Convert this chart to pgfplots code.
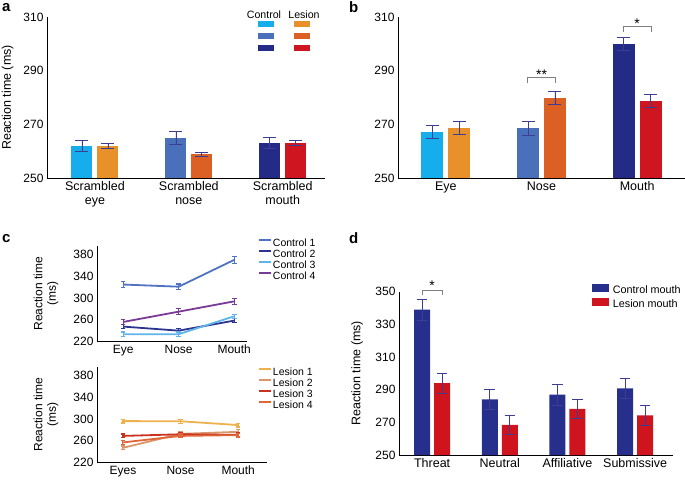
\documentclass[border=0pt]{standalone}
\usepackage{fontspec}
\setmainfont{Liberation Sans}
\usepackage{pgfplots}
\pgfplotsset{compat=1.18}

\definecolor{cEye}{HTML}{16ADEC}
\definecolor{cNose}{HTML}{4A70BA}
\definecolor{cMouth}{HTML}{242B86}
\definecolor{lEye}{HTML}{E8912B}
\definecolor{lNose}{HTML}{DC6024}
\definecolor{lMouth}{HTML}{CF1620}
\definecolor{errc}{HTML}{3B3E92}
\definecolor{cA}{HTML}{4F72C3}
\definecolor{cB}{HTML}{2B3590}
\definecolor{cC}{HTML}{60B4EA}
\definecolor{cD}{HTML}{793B96}
\definecolor{lA}{HTML}{EFB04E}
\definecolor{lB}{HTML}{D9966A}
\definecolor{lC}{HTML}{C8321F}
\definecolor{lD}{HTML}{E0663A}
\definecolor{dC}{HTML}{262F8C}
\definecolor{dL}{HTML}{D0141E}

\pgfplotsset{
  base/.style={scale only axis, axis lines=left,
    axis line style={-, line width=0.7pt, black},
    major tick length=0pt, tick style={draw=none},
    /pgf/number format/assume math mode=true,
    yticklabel style={font=\fontsize{12}{12}\selectfont},
    xticklabel style={font=\fontsize{12.5}{14}\selectfont, align=center},
    clip=false},
  barerr/.style={error bars/.cd, y dir=both, y explicit,
    error bar style={errc, line width=0.7pt},
    error mark options={rotate=90, errc, line width=0.7pt, mark size=#1}},
  lineerr/.style={line width=1.8pt, error bars/.cd, y dir=both, y explicit,
    error bar style={line width=1.1pt},
    error mark options={rotate=90, line width=1.1pt, mark size=2.3pt}},
}

\begin{document}
\begin{tikzpicture}
\useasboundingbox (0,0) rectangle (685pt,480pt);

% ---------------- panel a
\begin{axis}[base, at={(47pt,302pt)}, anchor=south west,
  width=278pt, height=161pt,
  xmin=-0.51, xmax=2.45, ymin=250, ymax=310,
  ytick={250,270,290,310},
  xtick={0,1,2},
  xticklabels={Scrambled\\eye, Scrambled\\nose, Scrambled\\mouth},
  ylabel={Reaction time (ms)},
  ylabel style={at={(axis description cs:-0.142,0.5)}, anchor=center,
    font=\fontsize{12.5}{13}\selectfont},
  legend columns=2,
  legend style={at={(0.759,0.975)}, anchor=north west, draw=none, fill=none,
    inner sep=0pt, outer sep=0pt, row sep=0pt, column sep=0pt,
    nodes={inner sep=0pt, text height=8pt, text depth=3.5pt},
    /tikz/every even column/.append style={column sep=19pt}},
  legend image code/.code={\fill[#1, draw=none] (0pt,0pt) rectangle (16pt,6pt);},
]
\addplot[ybar, bar width=21pt, bar shift=0pt, fill=cEye, draw=none, barerr=6.5pt]
  coordinates {(-0.138,262) +- (0,2)};
\addlegendentry{}
\addplot[ybar, bar width=21pt, bar shift=0pt, fill=lEye, draw=none, barerr=6.5pt]
  coordinates {(0.138,262) +- (0,0.8)};
\addlegendentry{}
\addplot[ybar, bar width=21pt, bar shift=0pt, fill=cNose, draw=none, barerr=6.5pt]
  coordinates {(0.862,265) +- (0,2.3)};
\addlegendentry{}
\addplot[ybar, bar width=21pt, bar shift=0pt, fill=lNose, draw=none, barerr=6.5pt]
  coordinates {(1.138,258.8) +- (0,0.9)};
\addlegendentry{}
\addplot[ybar, bar width=21pt, bar shift=0pt, fill=cMouth, draw=none, barerr=6.5pt]
  coordinates {(1.862,263) +- (0,2)};
\addlegendentry{}
\addplot[ybar, bar width=21pt, bar shift=0pt, fill=lMouth, draw=none, barerr=6.5pt]
  coordinates {(2.138,263) +- (0,1)};
\addlegendentry{}
\end{axis}
\node[font=\fontsize{10.6}{11}\selectfont] at (264pt,465pt) {Control};
\node[font=\fontsize{10.6}{11}\selectfont] at (304pt,465pt) {Lesion};

% ---------------- panel b
\begin{axis}[base, at={(398pt,302pt)}, anchor=south west,
  width=287pt, height=161pt,
  xmin=-0.5, xmax=2.5, ymin=250, ymax=310,
  ytick={250,270,290,310},
  xtick={0,1,2},
  xticklabels={Eye, Nose, Mouth},
]
\addplot[ybar, bar width=22pt, bar shift=0pt, fill=cEye, draw=none, barerr=6.5pt]
  coordinates {(-0.141,267.2) +- (0,2.3)};
\addplot[ybar, bar width=22pt, bar shift=0pt, fill=lEye, draw=none, barerr=6.5pt]
  coordinates {(0.141,268.6) +- (0,2.4)};
\addplot[ybar, bar width=22pt, bar shift=0pt, fill=cNose, draw=none, barerr=6.5pt]
  coordinates {(0.859,268.5) +- (0,2.6)};
\addplot[ybar, bar width=22pt, bar shift=0pt, fill=lNose, draw=none, barerr=6.5pt]
  coordinates {(1.141,280) +- (0,2.4)};
\addplot[ybar, bar width=22pt, bar shift=0pt, fill=cMouth, draw=none, barerr=6.5pt]
  coordinates {(1.859,300) +- (0,2.4)};
\addplot[ybar, bar width=22pt, bar shift=0pt, fill=lMouth, draw=none, barerr=6.5pt]
  coordinates {(2.141,278.8) +- (0,2.3)};
\draw[gray, line width=0.6pt] (axis cs:0.854,285.4) -- (axis cs:0.854,287.4) -- (axis cs:1.146,287.4) -- (axis cs:1.146,285.4);
\node[anchor=base, font=\fontsize{14}{14}\selectfont] at (axis cs:1,286.8) {**};
\draw[gray, line width=0.6pt] (axis cs:1.854,304.5) -- (axis cs:1.854,306.4) -- (axis cs:2.146,306.4) -- (axis cs:2.146,304.5);
\node[anchor=base, font=\fontsize{14}{14}\selectfont] at (axis cs:2,305.8) {*};
\end{axis}

% ---------------- panel c top
\begin{axis}[base, at={(97pt,138.5pt)}, anchor=south west,
  width=150pt, height=95.5pt,
  xmin=-0.47, xmax=2.23, ymin=220, ymax=396,
  ytick={220,260,300,340,380},
  xtick={0,1,2}, xticklabels={Eye, Nose, Mouth},
  xticklabel style={font=\fontsize{12}{12}\selectfont},
  ylabel={Reaction time\\(ms)},
  ylabel style={at={(axis description cs:-0.34,0.5)}, anchor=center, align=center,
    font=\fontsize{12}{13.5}\selectfont},
  legend style={at={(1.073,1.089)}, anchor=north west, draw=none, fill=none,
    inner sep=0pt, outer sep=0pt, row sep=0pt, column sep=0pt,
    nodes={inner sep=1pt, text height=7.5pt, text depth=1.5pt,
      font=\fontsize{10.5}{11}\selectfont}},
  legend cell align=left,
  legend image code/.code={\draw[#1, line width=2pt] (0pt,3.5pt) -- (12pt,3.5pt);},
]
\addplot[cA, lineerr] coordinates {(0,325) +- (0,5) (1,321) +- (0,5) (2,370.5) +- (0,6)};
\addlegendentry{Control 1}
\addplot[cB, lineerr] coordinates {(0,247.5) +- (0,4) (1,240) +- (0,4) (2,258.5) +- (0,4)};
\addlegendentry{Control 2}
\addplot[cC, lineerr] coordinates {(0,233.5) +- (0,4) (1,233.5) +- (0,4) (2,266.5) +- (0,4)};
\addlegendentry{Control 3}
\addplot[cD, lineerr] coordinates {(0,256) +- (0,5) (1,275) +- (0,5) (2,294) +- (0,5)};
\addlegendentry{Control 4}
\end{axis}

% ---------------- panel c bottom
\begin{axis}[base, at={(97pt,17.5pt)}, anchor=south west,
  width=170pt, height=95.5pt,
  xmin=-0.45, xmax=2.5, ymin=220, ymax=396,
  ytick={220,260,300,340,380},
  xtick={0,1,2}, xticklabels={Eyes, Nose, Mouth},
  xticklabel style={font=\fontsize{12}{12}\selectfont},
  ylabel={Reaction time\\(ms)},
  ylabel style={at={(axis description cs:-0.30,0.5)}, anchor=center, align=center,
    font=\fontsize{12}{13.5}\selectfont},
  legend style={at={(0.947,0.995)}, anchor=north west, draw=none, fill=none,
    inner sep=0pt, outer sep=0pt, row sep=0pt, column sep=0pt,
    nodes={inner sep=1pt, text height=7.5pt, text depth=1.5pt,
      font=\fontsize{10.5}{11}\selectfont}},
  legend cell align=left,
  legend image code/.code={\draw[#1, line width=2pt] (0pt,3.5pt) -- (12pt,3.5pt);},
]
\addplot[lA, lineerr] coordinates {(0,296.3) +- (0,3.5) (1,296) +- (0,3.5) (2,289) +- (0,3.5)};
\addlegendentry{Lesion 1}
\addplot[lB, lineerr] coordinates {(0,247) +- (0,3.5) (1,272.8) +- (0,3.5) (2,276.5) +- (0,3.5)};
\addlegendentry{Lesion 2}
\addplot[lC, lineerr] coordinates {(0,269) +- (0,3.5) (1,272) +- (0,3.5) (2,271) +- (0,3.5)};
\addlegendentry{Lesion 3}
\addplot[lD, lineerr] coordinates {(0,257) +- (0,3.5) (1,269) +- (0,3.5) (2,270.5) +- (0,3.5)};
\addlegendentry{Lesion 4}
\end{axis}

% ---------------- panel d
\begin{axis}[base, at={(399pt,25pt)}, anchor=south west,
  width=274pt, height=163.3pt,
  xmin=-0.49, xmax=3.56, ymin=250, ymax=350,
  ytick={250,270,290,310,330,350},
  xtick={0,1,2,3}, xticklabels={Threat, Neutral, Affiliative, Submissive},
  ylabel={Reaction time (ms)},
  ylabel style={at={(axis description cs:-0.153,0.5)}, anchor=center,
    font=\fontsize{12.5}{13}\selectfont},
  legend style={at={(0.704,1.05)}, anchor=north west, draw=none, fill=none,
    inner sep=0pt, outer sep=0pt, row sep=0pt, column sep=0pt,
    nodes={inner sep=1pt, text height=8pt, text depth=3pt,
      font=\fontsize{10.8}{11}\selectfont},
    /tikz/every odd column/.append style={column sep=3pt}},
  legend cell align=left,
  legend image code/.code={\fill[#1, draw=none] (0pt,-0.5pt) rectangle (17pt,7.5pt);},
]
\addplot[ybar, bar width=16pt, bar shift=0pt, fill=dC, draw=none, barerr=5.3pt]
  coordinates {(-0.148,339.1) +- (0,6.4) (0.852,284) +- (0,5.9) (1.852,286.9) +- (0,6.3) (2.852,290.8) +- (0,6.2)};
\addlegendentry{Control mouth}
\addplot[ybar, bar width=16pt, bar shift=0pt, fill=dL, draw=none, barerr=5.3pt]
  coordinates {(0.148,294) +- (0,6.1) (1.148,268.5) +- (0,6) (2.148,278.3) +- (0,5.8) (3.148,274.3) +- (0,5.9)};
\addlegendentry{Lesion mouth}
\draw[gray, line width=0.6pt] (axis cs:-0.148,348) -- (axis cs:-0.148,351) -- (axis cs:0.148,351) -- (axis cs:0.148,348);
\node[anchor=base, font=\fontsize{14}{14}\selectfont] at (axis cs:0,350.6) {*};
\end{axis}

% panel labels
\node[anchor=base west, font=\bfseries\fontsize{15}{15}\selectfont, inner sep=0pt] at (2pt,468pt) {a};
\node[anchor=base west, font=\bfseries\fontsize{15}{15}\selectfont, inner sep=0pt] at (349pt,467pt) {b};
\node[anchor=base west, font=\bfseries\fontsize{15}{15}\selectfont, inner sep=0pt] at (2pt,238pt) {c};
\node[anchor=base west, font=\bfseries\fontsize{15}{15}\selectfont, inner sep=0pt] at (349pt,237pt) {d};
\end{tikzpicture}
\end{document}
